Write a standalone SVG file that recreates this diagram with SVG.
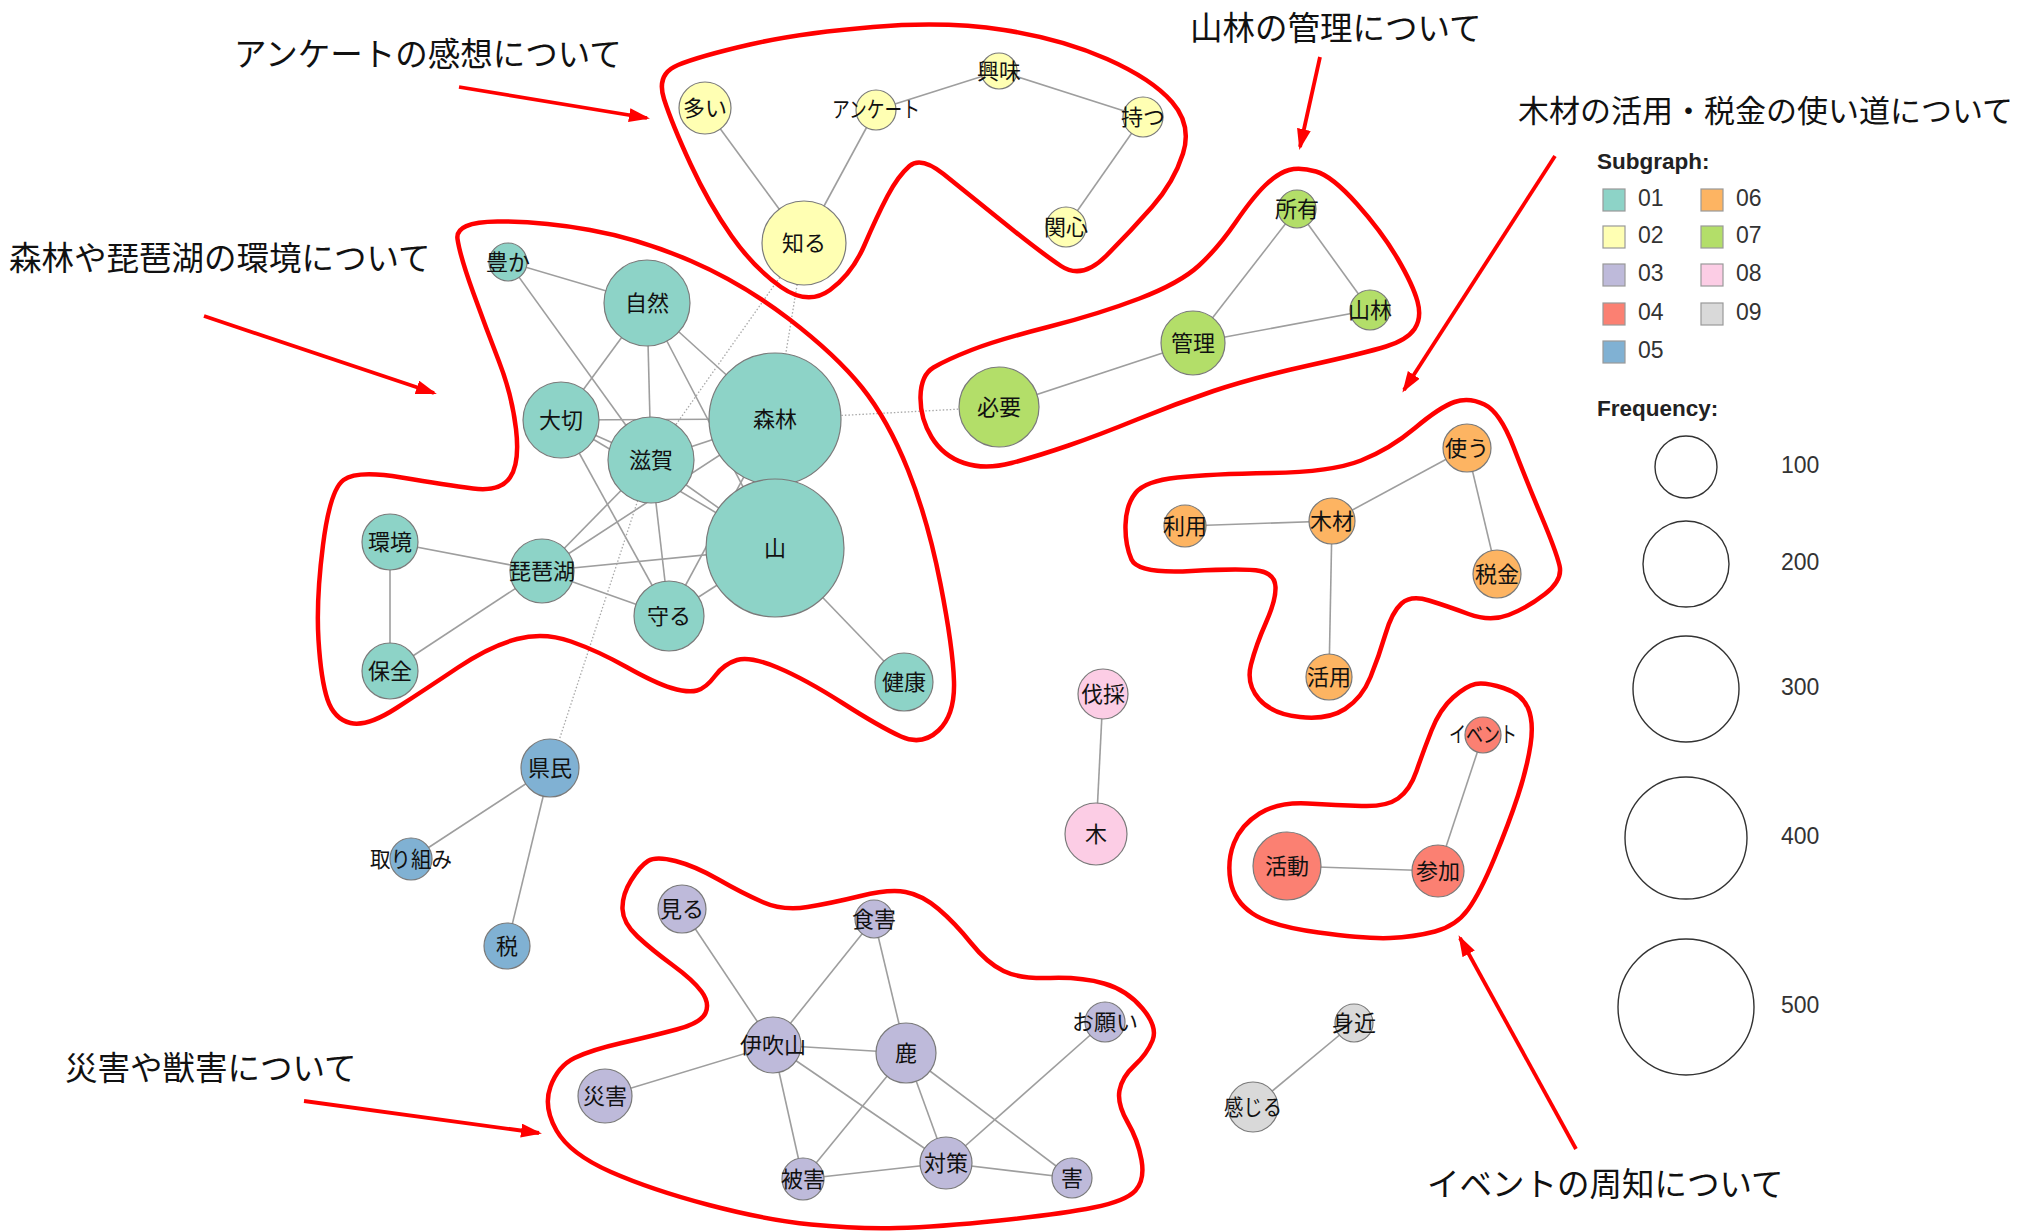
<svg xmlns="http://www.w3.org/2000/svg" width="2029" height="1231" viewBox="0 0 2029 1231">
<style>
.bg{fill:#ffffff}
.e{stroke:#9e9e9e;stroke-width:1.6;fill:none}
.d{stroke:#a8a8a8;stroke-width:1.3;stroke-dasharray:1.5 2;fill:none}
.n{stroke:#7a7a7a;stroke-width:1.2}
.c01{fill:#8DD3C7}.c02{fill:#FFFFB3}.c03{fill:#BEBADA}.c04{fill:#FB8072}.c05{fill:#80B1D3}
.c06{fill:#FDB462}.c07{fill:#B3DE69}.c08{fill:#FCCDE5}.c09{fill:#D9D9D9}
.lb{font-family:"Noto Sans CJK JP","Noto Sans",sans-serif;font-size:22px;fill:#111;text-anchor:middle;dominant-baseline:central}
.hull{fill:none;stroke:#FF0000;stroke-width:4.5;stroke-linejoin:round}
.ar{stroke:#FF0000;stroke-width:3.8;fill:none}
.an{font-family:"Noto Sans CJK JP","Noto Sans",sans-serif;font-size:32.5px;fill:#111;dominant-baseline:central}
.lt{font-family:"Liberation Sans",Arial,sans-serif;font-weight:bold;font-size:22.5px;fill:#222;dominant-baseline:central}
.lg{font-family:"Liberation Sans",Arial,sans-serif;font-size:23px;fill:#333;dominant-baseline:central}
.sw{stroke:#999;stroke-width:1.2}
.fc{fill:#ffffff;stroke:#333;stroke-width:1.4}
</style>
<defs>
<marker id="ah" markerUnits="userSpaceOnUse" markerWidth="22" markerHeight="16" refX="18" refY="7" orient="auto">
<path d="M0,0 L21,7 L0,14 Z" fill="#FF0000"/>
</marker>
</defs>
<rect class="bg" x="0" y="0" width="2029" height="1231"/>

<g id="connectors">
<line class="e" x1="508" y1="262" x2="647" y2="303"/>
<line class="e" x1="508" y1="262" x2="651" y2="460"/>
<line class="e" x1="647" y1="303" x2="561" y2="420"/>
<line class="e" x1="647" y1="303" x2="651" y2="460"/>
<line class="e" x1="647" y1="303" x2="775" y2="419"/>
<line class="e" x1="647" y1="303" x2="775" y2="548"/>
<line class="e" x1="561" y1="420" x2="775" y2="419"/>
<line class="e" x1="561" y1="420" x2="651" y2="460"/>
<line class="e" x1="561" y1="420" x2="775" y2="548"/>
<line class="e" x1="561" y1="420" x2="669" y2="616"/>
<line class="e" x1="651" y1="460" x2="775" y2="419"/>
<line class="e" x1="651" y1="460" x2="775" y2="548"/>
<line class="e" x1="651" y1="460" x2="542" y2="571"/>
<line class="e" x1="651" y1="460" x2="669" y2="616"/>
<line class="e" x1="542" y1="571" x2="775" y2="419"/>
<line class="e" x1="542" y1="571" x2="775" y2="548"/>
<line class="e" x1="542" y1="571" x2="390" y2="542"/>
<line class="e" x1="542" y1="571" x2="390" y2="671"/>
<line class="e" x1="542" y1="571" x2="669" y2="616"/>
<line class="e" x1="390" y1="542" x2="390" y2="671"/>
<line class="e" x1="669" y1="616" x2="775" y2="548"/>
<line class="e" x1="669" y1="616" x2="775" y2="419"/>
<line class="e" x1="775" y1="548" x2="904" y2="682"/>
<line class="d" x1="804" y1="243" x2="651" y2="460"/>
<line class="d" x1="804" y1="243" x2="775" y2="419"/>
<line class="d" x1="775" y1="419" x2="999" y2="407"/>
<line class="d" x1="550" y1="768" x2="651" y2="460"/>
<line class="e" x1="705" y1="108" x2="804" y2="243"/>
<line class="e" x1="876" y1="110" x2="804" y2="243"/>
<line class="e" x1="876" y1="110" x2="999" y2="71"/>
<line class="e" x1="999" y1="71" x2="1143" y2="117"/>
<line class="e" x1="1143" y1="117" x2="1066" y2="227"/>
<line class="e" x1="1297" y1="209" x2="1193" y2="343"/>
<line class="e" x1="1297" y1="209" x2="1370" y2="310"/>
<line class="e" x1="1193" y1="343" x2="1370" y2="310"/>
<line class="e" x1="1193" y1="343" x2="999" y2="407"/>
<line class="e" x1="1185" y1="526" x2="1332" y2="521"/>
<line class="e" x1="1332" y1="521" x2="1467" y2="448"/>
<line class="e" x1="1467" y1="448" x2="1497" y2="574"/>
<line class="e" x1="1332" y1="521" x2="1329" y2="677"/>
<line class="e" x1="1103" y1="694" x2="1096" y2="834"/>
<line class="e" x1="1483" y1="735" x2="1438" y2="871"/>
<line class="e" x1="1287" y1="866" x2="1438" y2="871"/>
<line class="e" x1="1354" y1="1023" x2="1253" y2="1107"/>
<line class="e" x1="550" y1="768" x2="411" y2="859"/>
<line class="e" x1="550" y1="768" x2="507" y2="946"/>
<line class="e" x1="682" y1="909" x2="773" y2="1045"/>
<line class="e" x1="874" y1="919" x2="773" y2="1045"/>
<line class="e" x1="874" y1="919" x2="906" y2="1053"/>
<line class="e" x1="773" y1="1045" x2="906" y2="1053"/>
<line class="e" x1="773" y1="1045" x2="605" y2="1096"/>
<line class="e" x1="773" y1="1045" x2="803" y2="1179"/>
<line class="e" x1="773" y1="1045" x2="946" y2="1163"/>
<line class="e" x1="906" y1="1053" x2="803" y2="1179"/>
<line class="e" x1="906" y1="1053" x2="946" y2="1163"/>
<line class="e" x1="906" y1="1053" x2="1072" y2="1178"/>
<line class="e" x1="803" y1="1179" x2="946" y2="1163"/>
<line class="e" x1="946" y1="1163" x2="1072" y2="1178"/>
<line class="e" x1="946" y1="1163" x2="1105" y2="1022"/>
</g>

<g id="nodes">
<g id="n-yutaka"><circle class="n c01" cx="508" cy="262" r="19"/><text class="lb" x="508" y="260">豊か</text></g>
<g id="n-shizen"><circle class="n c01" cx="647" cy="303" r="43"/><text class="lb" x="647" y="301">自然</text></g>
<g id="n-taisetsu"><circle class="n c01" cx="561" cy="420" r="38"/><text class="lb" x="561" y="418">大切</text></g>
<g id="n-shinrin"><circle class="n c01" cx="775" cy="419" r="66"/><text class="lb" x="775" y="417">森林</text></g>
<g id="n-shiga"><circle class="n c01" cx="651" cy="460" r="43"/><text class="lb" x="651" y="458">滋賀</text></g>
<g id="n-kankyo"><circle class="n c01" cx="390" cy="542" r="28"/><text class="lb" x="390" y="540">環境</text></g>
<g id="n-biwako"><circle class="n c01" cx="542" cy="571" r="32"/><text class="lb" x="542" y="569">琵琶湖</text></g>
<g id="n-yama"><circle class="n c01" cx="775" cy="548" r="69"/><text class="lb" x="775" y="546">山</text></g>
<g id="n-mamoru"><circle class="n c01" cx="669" cy="616" r="35"/><text class="lb" x="669" y="614">守る</text></g>
<g id="n-hozen"><circle class="n c01" cx="390" cy="671" r="28"/><text class="lb" x="390" y="669">保全</text></g>
<g id="n-kenko"><circle class="n c01" cx="904" cy="682" r="29"/><text class="lb" x="904" y="680">健康</text></g>

<g id="n-ooi"><circle class="n c02" cx="705" cy="108" r="26"/><text class="lb" x="705" y="106">多い</text></g>
<g id="n-enquete"><circle class="n c02" cx="876" cy="110" r="20"/><text class="lb" x="876" y="107" textLength="88" lengthAdjust="spacingAndGlyphs">アンケート</text></g>
<g id="n-kyomi"><circle class="n c02" cx="999" cy="71" r="18"/><text class="lb" x="999" y="69">興味</text></g>
<g id="n-motsu"><circle class="n c02" cx="1143" cy="117" r="20"/><text class="lb" x="1143" y="115">持つ</text></g>
<g id="n-kanshin"><circle class="n c02" cx="1066" cy="227" r="20"/><text class="lb" x="1066" y="225">関心</text></g>
<g id="n-shiru"><circle class="n c02" cx="804" cy="243" r="42"/><text class="lb" x="804" y="241">知る</text></g>

<g id="n-shoyu"><circle class="n c07" cx="1297" cy="209" r="19"/><text class="lb" x="1297" y="207">所有</text></g>
<g id="n-sanrin"><circle class="n c07" cx="1370" cy="310" r="20"/><text class="lb" x="1370" y="308">山林</text></g>
<g id="n-kanri"><circle class="n c07" cx="1193" cy="343" r="32"/><text class="lb" x="1193" y="341">管理</text></g>
<g id="n-hitsuyo"><circle class="n c07" cx="999" cy="407" r="40"/><text class="lb" x="999" y="405">必要</text></g>

<g id="n-tsukau"><circle class="n c06" cx="1467" cy="448" r="24"/><text class="lb" x="1467" y="446">使う</text></g>
<g id="n-riyo"><circle class="n c06" cx="1185" cy="526" r="21"/><text class="lb" x="1185" y="524">利用</text></g>
<g id="n-mokuzai"><circle class="n c06" cx="1332" cy="521" r="23"/><text class="lb" x="1332" y="519">木材</text></g>
<g id="n-zeikin"><circle class="n c06" cx="1497" cy="574" r="24"/><text class="lb" x="1497" y="572">税金</text></g>
<g id="n-katsuyo"><circle class="n c06" cx="1329" cy="677" r="23"/><text class="lb" x="1329" y="675">活用</text></g>

<g id="n-bassai"><circle class="n c08" cx="1103" cy="694" r="25"/><text class="lb" x="1103" y="692">伐採</text></g>
<g id="n-ki"><circle class="n c08" cx="1096" cy="834" r="31"/><text class="lb" x="1096" y="832">木</text></g>

<g id="n-event"><circle class="n c04" cx="1483" cy="735" r="18"/><text class="lb" x="1483" y="732" textLength="68" lengthAdjust="spacingAndGlyphs">イベント</text></g>
<g id="n-katsudo"><circle class="n c04" cx="1287" cy="866" r="34"/><text class="lb" x="1287" y="864">活動</text></g>
<g id="n-sanka"><circle class="n c04" cx="1438" cy="871" r="26"/><text class="lb" x="1438" y="869">参加</text></g>

<g id="n-mijika"><circle class="n c09" cx="1354" cy="1023" r="19"/><text class="lb" x="1354" y="1021">身近</text></g>
<g id="n-kanjiru"><circle class="n c09" cx="1253" cy="1107" r="25"/><text class="lb" x="1253" y="1105" textLength="58" lengthAdjust="spacingAndGlyphs">感じる</text></g>

<g id="n-kenmin"><circle class="n c05" cx="550" cy="768" r="29"/><text class="lb" x="550" y="766">県民</text></g>
<g id="n-torikumi"><circle class="n c05" cx="411" cy="859" r="21"/><text class="lb" x="411" y="857" textLength="82" lengthAdjust="spacingAndGlyphs">取り組み</text></g>
<g id="n-zei"><circle class="n c05" cx="507" cy="946" r="23"/><text class="lb" x="507" y="944">税</text></g>

<g id="n-miru"><circle class="n c03" cx="682" cy="909" r="24"/><text class="lb" x="682" y="907">見る</text></g>
<g id="n-shokugai"><circle class="n c03" cx="874" cy="919" r="19"/><text class="lb" x="874" y="917">食害</text></g>
<g id="n-ibukiyama"><circle class="n c03" cx="773" cy="1045" r="28"/><text class="lb" x="773" y="1043">伊吹山</text></g>
<g id="n-shika"><circle class="n c03" cx="906" cy="1053" r="30"/><text class="lb" x="906" y="1051">鹿</text></g>
<g id="n-onegai"><circle class="n c03" cx="1105" cy="1022" r="20"/><text class="lb" x="1105" y="1020">お願い</text></g>
<g id="n-saigai"><circle class="n c03" cx="605" cy="1096" r="27"/><text class="lb" x="605" y="1094">災害</text></g>
<g id="n-higai"><circle class="n c03" cx="803" cy="1179" r="21"/><text class="lb" x="803" y="1177">被害</text></g>
<g id="n-taisaku"><circle class="n c03" cx="946" cy="1163" r="26"/><text class="lb" x="946" y="1161">対策</text></g>
<g id="n-gai"><circle class="n c03" cx="1072" cy="1178" r="20"/><text class="lb" x="1072" y="1176">害</text></g>
</g>

<g id="hulls">
<path class="hull" d="M664,99 Q656,74 678,65 Q700,56 750,44.5 Q800,33 873,27 Q946,21 1004,30 Q1062,39 1107,59 Q1152,79 1172,102 Q1192,125 1183,153.5 Q1174,182 1152,207 Q1130,232 1106,256 Q1082,280 1061,266 Q1040,252 1003,222 Q966,192 943.5,174 Q921,156 909.5,166 Q898,176 887.5,196 Q877,216 864.5,245 Q852,274 830,290 Q808,306 781,287 Q754,268 731.5,236 Q709,204 690.5,164 Q672,124 664,99 Z"/>
<path class="hull" d="M457.5,239 Q455,222 497.5,221.5 Q540,221 590,230 Q640,239 691,261 Q742,283 789,319 Q836,355 862,387.5 Q888,420 908,470 Q928,520 940.5,584 Q953,648 954,681.5 Q955,715 938.5,730.5 Q922,746 901,736.5 Q880,727 842.5,703 Q805,679 777.5,667.5 Q750,656 737,660 Q724,664 715,676 Q706,688 697,690.5 Q688,693 671.5,688 Q655,683 626.5,667 Q598,651 571,641.5 Q544,632 517,639 Q490,646 458,667.5 Q426,689 396.5,708 Q367,727 350.5,723 Q334,719 327.5,699.5 Q321,680 318.5,640 Q316,600 323,545 Q330,490 343.5,480 Q357,470 401.5,477.5 Q446,485 473,488.5 Q500,492 510,477.5 Q520,463 516,429 Q512,395 499,361.5 Q486,328 473,292 Q460,256 457.5,239 Z"/>
<path class="hull" d="M1289,170 Q1300,167 1316,171.5 Q1332,176 1357,204 Q1382,232 1397.5,258.5 Q1413,285 1417.5,301.5 Q1422,318 1414.5,329 Q1407,340 1386,346.5 Q1365,353 1308.5,365.5 Q1252,378 1213.5,391 Q1175,404 1137,419.5 Q1099,435 1068.5,445.5 Q1038,456 1011.5,463 Q985,470 964,463 Q943,456 931.5,437 Q920,418 920.5,396.5 Q921,375 933.5,367.5 Q946,360 971.5,350 Q997,340 1048,327 Q1099,314 1139.5,298.5 Q1180,283 1199,265.5 Q1218,248 1235.5,222.5 Q1253,197 1265.5,185 Q1278,173 1289,170 Z"/>
<path class="hull" d="M1454.5,402 Q1469,397 1484.5,404.5 Q1500,412 1513.5,447 Q1527,482 1541.5,516.5 Q1556,551 1559.5,565.5 Q1563,580 1545,594 Q1527,608 1508.5,615 Q1490,622 1468.5,614 Q1447,606 1429,600.5 Q1411,595 1401.5,603.5 Q1392,612 1385.5,634 Q1379,656 1370.5,677 Q1362,698 1345,709 Q1328,720 1300,717 Q1272,714 1259,699 Q1246,684 1251,664.5 Q1256,645 1266,622.5 Q1276,600 1275.5,587 Q1275,574 1260,571 Q1245,568 1191.5,571 Q1138,574 1131.5,559.5 Q1125,545 1125.5,525 Q1126,505 1135.5,493 Q1145,481 1177.5,477.5 Q1210,474 1271,473 Q1332,472 1361,460.5 Q1390,449 1415,428 Q1440,407 1454.5,402 Z"/>
<path class="hull" d="M1475.5,684 Q1485,682 1503.5,688 Q1522,694 1528,708 Q1534,722 1530.5,745 Q1527,768 1518,795.5 Q1509,823 1494.5,858 Q1480,893 1468,909.5 Q1456,926 1435,931.5 Q1414,937 1390,938 Q1366,939 1318.5,932.5 Q1271,926 1252.5,913.5 Q1234,901 1230.5,881 Q1227,861 1234,843 Q1241,825 1259.5,813.5 Q1278,802 1307.5,803.5 Q1337,805 1361.5,806 Q1386,807 1398,798.5 Q1410,790 1416.5,771 Q1423,752 1431.5,730.5 Q1440,709 1453,697.5 Q1466,686 1475.5,684 Z"/>
<path class="hull" d="M648,861 Q656,856 675.5,861 Q695,866 718.5,879.5 Q742,893 762.5,902 Q783,911 807.5,907 Q832,903 860.5,896 Q889,889 905.5,892 Q922,895 938.5,909 Q955,923 971,943 Q987,963 1003.5,971 Q1020,979 1050.5,978 Q1081,977 1104,983.5 Q1127,990 1142.5,1008.5 Q1158,1027 1152.5,1040.5 Q1147,1054 1134.5,1065.5 Q1122,1077 1119.5,1090.5 Q1117,1104 1127.5,1122 Q1138,1140 1141.5,1160 Q1145,1180 1135.5,1190.5 Q1126,1201 1093.5,1207.5 Q1061,1214 999.5,1220.5 Q938,1227 897,1228 Q856,1229 811,1224.5 Q766,1220 709,1205 Q652,1190 611,1172 Q570,1154 556.5,1130.5 Q543,1107 550.5,1086.5 Q558,1066 574.5,1058 Q591,1050 621.5,1043 Q652,1036 676.5,1029.5 Q701,1023 705.5,1013 Q710,1003 701.5,991.5 Q693,980 672.5,965 Q652,950 637.5,936.5 Q623,923 622.5,909 Q622,895 631,880.5 Q640,866 648,861 Z"/>
</g>

<g id="annotations">
<line class="ar" x1="459" y1="87" x2="647" y2="118" marker-end="url(#ah)"/>
<line class="ar" x1="204" y1="316" x2="434" y2="393" marker-end="url(#ah)"/>
<line class="ar" x1="1320" y1="57" x2="1300" y2="147" marker-end="url(#ah)"/>
<line class="ar" x1="1555" y1="156" x2="1404" y2="390" marker-end="url(#ah)"/>
<line class="ar" x1="304" y1="1101" x2="539" y2="1133" marker-end="url(#ah)"/>
<line class="ar" x1="1576" y1="1149" x2="1460" y2="938" marker-end="url(#ah)"/>
<text class="an" x="234" y="51">アンケートの感想について</text>
<text class="an" x="9" y="255">森林や琵琶湖の環境について</text>
<text class="an" x="1190" y="25">山林の管理について</text>
<text class="an" x="1518" y="108" style="font-size:31px">木材の活用・税金の使い道について</text>
<text class="an" x="65" y="1065">災害や獣害について</text>
<text class="an" x="1427" y="1181">イベントの周知について</text>
</g>

<g id="legend">
<text class="lt" x="1597" y="161">Subgraph:</text>
<rect class="sw c01" x="1603" y="189" width="22" height="22"/><text class="lg" x="1638" y="198">01</text>
<rect class="sw c02" x="1603" y="226" width="22" height="22"/><text class="lg" x="1638" y="235">02</text>
<rect class="sw c03" x="1603" y="264" width="22" height="22"/><text class="lg" x="1638" y="273">03</text>
<rect class="sw c04" x="1603" y="303" width="22" height="22"/><text class="lg" x="1638" y="312">04</text>
<rect class="sw c05" x="1603" y="341" width="22" height="22"/><text class="lg" x="1638" y="350">05</text>
<rect class="sw c06" x="1701" y="189" width="22" height="22"/><text class="lg" x="1736" y="198">06</text>
<rect class="sw c07" x="1701" y="226" width="22" height="22"/><text class="lg" x="1736" y="235">07</text>
<rect class="sw c08" x="1701" y="264" width="22" height="22"/><text class="lg" x="1736" y="273">08</text>
<rect class="sw c09" x="1701" y="303" width="22" height="22"/><text class="lg" x="1736" y="312">09</text>
<text class="lt" x="1597" y="408">Frequency:</text>
<circle class="fc" cx="1686" cy="467" r="31"/><text class="lg" x="1781" y="465">100</text>
<circle class="fc" cx="1686" cy="564" r="43"/><text class="lg" x="1781" y="562">200</text>
<circle class="fc" cx="1686" cy="689" r="53"/><text class="lg" x="1781" y="687">300</text>
<circle class="fc" cx="1686" cy="838" r="61"/><text class="lg" x="1781" y="836">400</text>
<circle class="fc" cx="1686" cy="1007" r="68"/><text class="lg" x="1781" y="1005">500</text>
</g>
</svg>
